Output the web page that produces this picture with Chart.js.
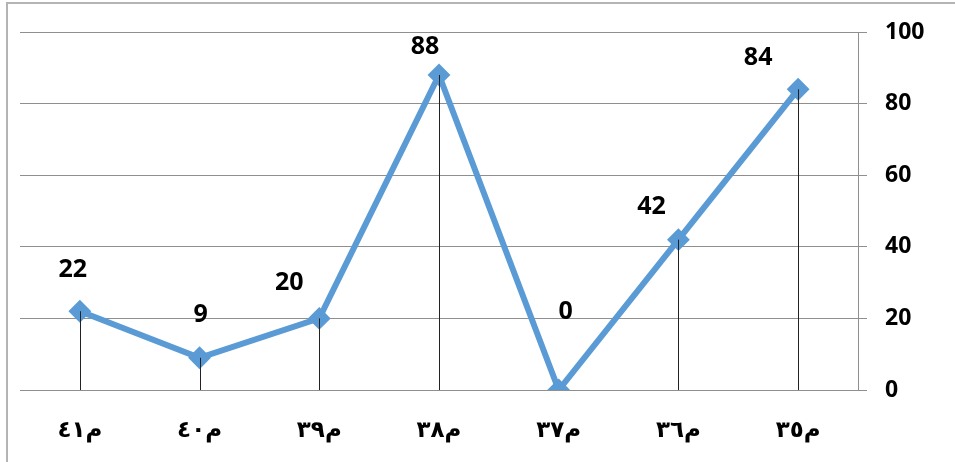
<!DOCTYPE html>
<html>
<head>
<meta charset="utf-8">
<script src="https://cdn.jsdelivr.net/npm/chart.js@4"></script>
<style>
  html, body { margin: 0; padding: 0; background: #fff; overflow: hidden; }
  #wrap { position: relative; width: 955px; height: 462px; }
</style>
</head>
<body>
<div id="wrap"><canvas id="chart" width="955" height="462"></canvas></div>
<script>
// data (categories are shown right to left)
const categories = ['م٤١', 'م٤٠', 'م٣٩', 'م٣٨', 'م٣٧', 'م٣٦', 'م٣٥'];
const values = [22, 9, 20, 88, 0, 42, 84];
const yTicks = [0, 20, 40, 60, 80, 100];

const blue = '#5B9BD5';
const grey = '#8f8f8f';
const numFont = '"Open Sans", Lato, "DejaVu Sans", sans-serif';

// outer frame (only left and top edges fall inside the picture)
const frame = {
    id: 'frame',
    beforeDraw(chart) {
        const c = chart.ctx;
        c.save();
        c.fillStyle = '#fff';
        c.fillRect(0, 0, chart.width, chart.height);
        c.strokeStyle = '#b4b4b4';
        c.lineWidth = 2;
        c.beginPath();
        c.moveTo(7, chart.height);
        c.lineTo(7, 3);
        c.lineTo(chart.width, 3);
        c.stroke();
        c.restore();
    }
};

// black drop lines from each point down to the axis, plus the value labels
const dropLines = {
    id: 'dropLines',
    afterDatasetsDraw(chart, args, opts) {
        const c = chart.ctx;
        const meta = chart.getDatasetMeta(0);
        const base = chart.scales.y.getPixelForValue(0);
        c.save();
        c.strokeStyle = '#222';
        c.lineWidth = 1;
        meta.data.forEach(function (pt) {
            const x = Math.round(pt.x) + 0.5;
            c.beginPath();
            c.moveTo(x, pt.y);
            c.lineTo(x, base);
            c.stroke();
        });
        c.fillStyle = '#000';
        c.font = 'bold 25px ' + numFont;
        c.textAlign = 'center';
        c.textBaseline = 'middle';
        meta.data.forEach(function (pt, i) {
            const off = opts.offsets[i];
            c.fillText(String(values[i]), pt.x + off[0], pt.y + off[1]);
        });
        c.restore();
    }
};

new Chart(document.getElementById('chart'), {
    type: 'line',
    data: {
        labels: categories,
        datasets: [{
            data: values,
            borderColor: blue,
            backgroundColor: blue,
            borderWidth: 6,
            tension: 0,
            pointStyle: 'rectRot',
            pointRadius: 10,
            pointHoverRadius: 10,
            pointBorderWidth: 2,
            pointBorderColor: blue,
            pointBackgroundColor: blue
        }]
    },
    options: {
        responsive: false,
        animation: false,
        events: [],
        layout: { padding: { left: 20, top: 32, right: 0, bottom: 0 } },
        plugins: {
            legend: { display: false },
            tooltip: { enabled: false },
            dropLines: {
                offsets: [[-7, -41], [1, -43], [-30, -36], [-14, -28], [7, -78], [-27, -33], [-40, -31]]
            }
        },
        scales: {
            x: {
                offset: true,
                grid: { display: false, drawTicks: false },
                border: { display: false },
                ticks: {
                    color: '#000',
                    padding: 27,
                    font: { family: '"DejaVu Sans", sans-serif', size: 23, weight: 'bold' }
                },
                afterFit(scale) { scale.height = 72; }
            },
            y: {
                position: 'right',
                min: 0,
                max: 100,
                afterBuildTicks(scale) {
                    scale.ticks = yTicks.map(v => ({ value: v }));
                },
                grid: { color: grey, lineWidth: 1, tickLength: 9 },
                border: { display: true, color: grey, width: 1 },
                ticks: {
                    color: '#000',
                    padding: 18,
                    font: { family: numFont, size: 23, weight: 'bold' }
                },
                afterFit(scale) { scale.width = 97; }
            }
        }
    },
    plugins: [frame, dropLines]
});
</script>
</body>
</html>
